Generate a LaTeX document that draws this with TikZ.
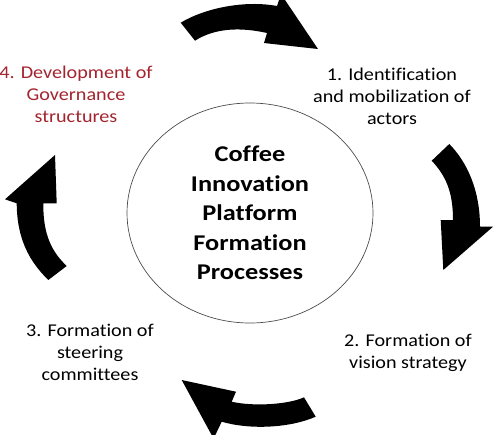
\documentclass[tikz,border=0pt]{standalone}
\usepackage{fontspec}
\setmainfont{Carlito}
\newfontfamily\labfont[FakeStretch=1.12,Ligatures=NoCommon]{Carlito}
\newfontfamily\hubfont[FakeStretch=1.17,Ligatures=NoCommon]{Carlito}
\usetikzlibrary{shapes.geometric}
\definecolor{govred}{HTML}{A3242E}
\begin{document}
\begin{tikzpicture}[x=1pt,y=-1pt,
  lab/.style={align=center,inner sep=0pt,font=\labfont\fontsize{18}{22}\selectfont},
  hub/.style={ellipse,draw=black!70,line width=0.7pt,minimum width=246pt,minimum height=220pt,inner sep=0pt,align=center,font=\hubfont\bfseries\fontsize{22.5}{29.5}\selectfont},
  bigarrow/.style={fill=black,draw=none}]
\useasboundingbox (0,0) rectangle (495,434);
\begin{scope}
\clip (0,0) rectangle (495,434);
% top arrow
\fill[bigarrow] (180.7,22.7) .. controls (205,8) and (245,0) .. (277,6) -- (281,-6) -- (318,49) -- (264,43) -- (267,33) .. controls (240,27) and (215,28) .. (195,40.7) -- cycle;
% right arrow
\fill[bigarrow] (449.3,144) .. controls (467,162) and (480,190) .. (480,226.7) -- (493,226.7) -- (443.3,270) -- (440.7,220) -- (453,220) .. controls (453,192) and (446,176) .. (431.7,160.7) -- cycle;
% bottom arrow
\fill[bigarrow] (304,397.3) .. controls (290,404) and (255,407) .. (231.7,401.7) -- (236,391.7) -- (181.7,380) -- (213.6,438.6) -- (221.7,421.7) .. controls (250,430) and (290,428) .. (315.7,416.7) -- cycle;
% left arrow
\fill[bigarrow] (48.3,280) .. controls (30,262) and (17,240) .. (16.7,203.3) -- (5,199.3) -- (55,155) -- (56.7,203.3) -- (43.3,203.3) .. controls (43,235) and (52,252) .. (66.7,266) -- cycle;
\end{scope}
\node[hub] (hub) at (250,213) {Coffee\\Innovation\\Platform\\Formation\\Processes};
\node[lab] (s1) at (392,96) {1. Identification\\and mobilization of\\actors};
\node[lab] (s2) at (408,352.5) {2. Formation of\\vision strategy};
\node[lab] (s3) at (90,352.5) {3. Formation of\\steering\\committees};
\node[lab,text=govred] (s4) at (76,94) {4. Development of\\Governance\\structures};
\end{tikzpicture}
\end{document}
